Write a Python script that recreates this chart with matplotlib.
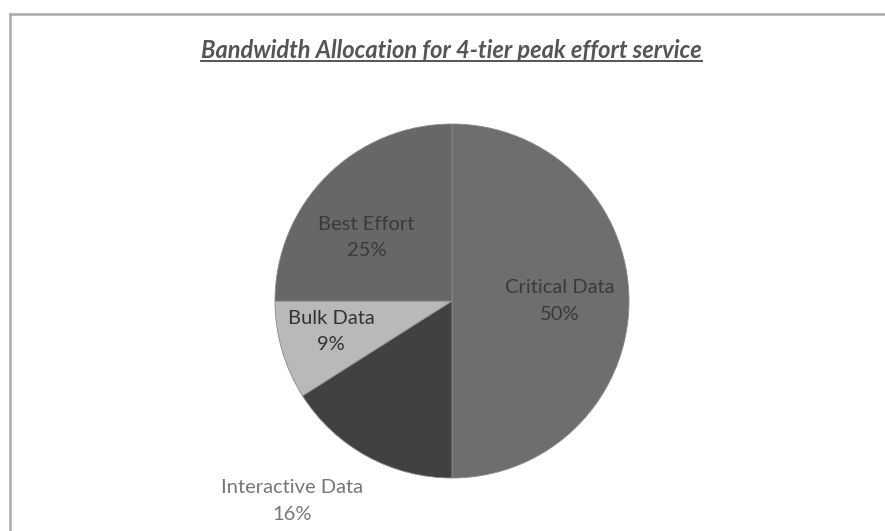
import numpy as np
import matplotlib
matplotlib.use("Agg")
import matplotlib.pyplot as plt
from matplotlib.lines import Line2D

# data
categories = ['Critical Data', 'Interactive Data', 'Bulk Data', 'Best Effort']
shares = [50, 16, 9, 25]
colors = ['#6e6e6e', '#414141', '#b9b9b9', '#676767']
title = 'Bandwidth Allocation for 4-tier peak effort service'

# label placement (radius factor + small nudges in px), and label colours
label_dist = [0.61, 1.29, 0.70, 0.62]
label_nudge = [(0, 0), (-50, 0), (-2, 4), (-8, -14)]
label_colors = ['#3a3a3a', '#777777', '#333333', '#3a3a3a']

W, H = 885, 531
fig = plt.figure(figsize=(W / 100, H / 100), dpi=100)
ax = fig.add_axes([0, 0, 1, 1])

cx, cy, r = 452, H - 301, 177
wedges, _ = ax.pie(shares, colors=colors, startangle=90, counterclock=False,
                   center=(cx, cy), radius=r, frame=True,
                   wedgeprops=dict(edgecolor='#8a8a8a', linewidth=0.6))
ax.set_xlim(0, W)
ax.set_ylim(0, H)
ax.set_aspect('equal')
ax.axis('off')

# slice labels
for w, name, val, d, (nx, ny), c in zip(wedges, categories, shares, label_dist,
                                         label_nudge, label_colors):
    ang = np.deg2rad((w.theta1 + w.theta2) / 2)
    x = cx + d * r * np.cos(ang) + nx
    y = cy + d * r * np.sin(ang) + ny
    ax.text(x, y, f'{name}\n{val}%', ha='center', va='center', color=c,
            fontsize=14.5, family='Lato', linespacing=1.7)

# title with underline
t = fig.text(0.51, 1 - 50 / H, title, ha='center', va='center', fontsize=17,
             fontweight='bold', fontstyle='italic', color='#555555', family='Lato')
fig.canvas.draw()
bb = t.get_window_extent()
uy = bb.y0 + 1
fig.add_artist(Line2D([bb.x0 / W, bb.x1 / W], [uy / H, uy / H], color='#555555', lw=1.4))

# frame lines
fig.add_artist(Line2D([10 / W, 1], [1 - 14 / H, 1 - 14 / H], color='#aaaaaa', lw=1.8))
fig.add_artist(Line2D([10 / W, 10 / W], [0, 1 - 14 / H], color='#aaaaaa', lw=1.8))

fig.savefig('out.png', dpi=100, facecolor='white')
